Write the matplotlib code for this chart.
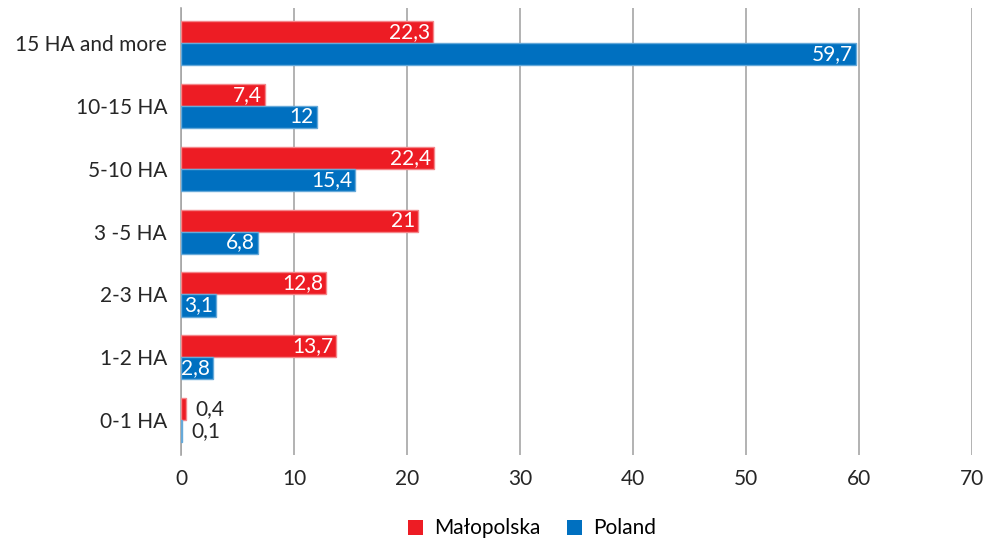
import matplotlib
matplotlib.use("Agg")
import matplotlib.pyplot as plt
import numpy as np

categories = ["15 HA and more", "10-15 HA", "5-10 HA", "3 -5 HA", "2-3 HA", "1-2 HA", "0-1 HA"]
malopolska = [22.3, 7.4, 22.4, 21, 12.8, 13.7, 0.4]
poland = [59.7, 12, 15.4, 6.8, 3.1, 2.8, 0.1]
series_names = ["Małopolska", "Poland"]
colors = ["#ED1C24", "#0070C0"]
edge_colors = ["#F4868A", "#66A9D9"]

plt.rcParams['font.family'] = ['Lato', 'DejaVu Sans']
FS = 15

fig = plt.figure(figsize=(9.89, 5.41), dpi=100)
ax = fig.add_axes([0.183, 0.159, 0.8, 0.826])

n = len(categories)
y = np.arange(n)[::-1].astype(float)
h = 0.35

def fmt(v):
    s = ("%g" % v).replace(".", ",")
    return s

for si, (vals, c, ec) in enumerate(zip([malopolska, poland], colors, edge_colors)):
    ys = y + (h / 2 if si == 0 else -h / 2)
    bars = ax.barh(ys, vals, height=h, color=c, edgecolor=ec, linewidth=1,
                   label=series_names[si], zorder=3)
    for b, v, yy in zip(bars, vals, ys):
        if v < 1:
            ax.annotate(fmt(v), (v, yy), xytext=(7, 0), textcoords="offset points",
                        ha="left", va="center", fontsize=FS, color="#262626", zorder=4)
        else:
            t = ax.annotate(fmt(v), (v, yy), xytext=(-2, 0), textcoords="offset points",
                            ha="right", va="center", fontsize=FS, color="white", zorder=4)
            t.set_clip_on(True)
            t.set_clip_path(b)

ax.set_xlim(0, 70)
ax.set_xticks(range(0, 71, 10))
ax.set_ylim(-0.55, n - 0.45)
ax.set_yticks(y)
ax.set_yticklabels(categories)
ax.grid(axis="x", color="#A6A6A6", linewidth=1.2, zorder=0)
ax.set_axisbelow(True)
for s in ["top", "right", "bottom"]:
    ax.spines[s].set_visible(False)
ax.spines["left"].set_color("#A6A6A6")
ax.spines["left"].set_linewidth(1.2)
ax.tick_params(axis="both", length=0, labelsize=FS, colors="#262626", pad=10)
ax.tick_params(axis="x", pad=10)

handles, labels = ax.get_legend_handles_labels()
leg = fig.legend(handles, labels, loc="lower center", bbox_to_anchor=(0.538, -0.03), ncol=2,
                 frameon=False, fontsize=FS, handlelength=0.72, handleheight=0.72,
                 handletextpad=0.5, columnspacing=1.3)
for hdl in leg.legend_handles:
    hdl.set_edgecolor("none")

fig.savefig("out.png", dpi=100)
